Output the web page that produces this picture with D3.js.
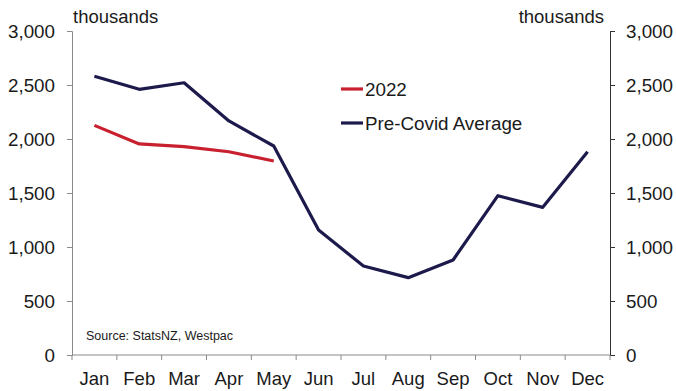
<!DOCTYPE html>
<html>
<head>
<meta charset="utf-8">
<script src="https://cdn.jsdelivr.net/npm/d3@7"></script>
<style>
  html, body { margin: 0; padding: 0; background: #fff; }
  svg { display: block; font-family: 'Liberation Sans', Arial, sans-serif; }
</style>
</head>
<body>
<div id="chart"></div>
<script>
/* ── Data ── */
const MONTHS = ['Jan', 'Feb', 'Mar', 'Apr', 'May', 'Jun', 'Jul', 'Aug', 'Sep', 'Oct', 'Nov', 'Dec'];
const Y2022 = [2126, 1954, 1929, 1882, 1796];
const PRE_COVID = [2581, 2460, 2521, 2167, 1935, 1157, 824, 716, 880, 1475, 1367, 1882];
const Y_TICKS = [0, 500, 1000, 1500, 2000, 2500, 3000];

const W = 676, H = 391;
const M = { left: 72, right: 66, top: 31, bottom: 36 };
const TXT = '#1a1a1a';

const svg = d3.select('#chart').append('svg')
  .attr('width', W).attr('height', H);

const x = d3.scaleBand().domain(MONTHS)
  .range([M.left, W - M.right]);
const y = d3.scaleLinear().domain([0, 3000])
  .range([H - M.bottom, M.top]);

const fmt = d3.format(',');

/* ── Axes ── */
const yl = svg.append('g')
  .attr('transform', `translate(${M.left},0)`)
  .call(d3.axisLeft(y).tickValues(Y_TICKS).tickFormat(fmt).tickSizeOuter(0).tickSize(5).tickPadding(12));
yl.select('.domain').attr('stroke', '#8a8a8a');
yl.selectAll('.tick line').attr('stroke', '#8a8a8a');

const yr = svg.append('g')
  .attr('transform', `translate(${W - M.right},0)`)
  .call(d3.axisRight(y).tickValues(Y_TICKS).tickFormat(fmt).tickSizeOuter(0).tickSize(5).tickPadding(11));
yr.select('.domain').attr('stroke', '#333');
yr.selectAll('.tick line').attr('stroke', '#333');

[yl, yr].forEach(g => g.selectAll('.tick text')
  .attr('fill', TXT).attr('font-size', '18.8px'));

/* bottom axis: ticks on band edges */
const xa = svg.append('g')
  .attr('transform', `translate(0,${y(0)})`);
xa.append('line')
  .attr('x1', M.left).attr('x2', W - M.right)
  .attr('stroke', '#8a8a8a');
xa.selectAll('line.edge')
  .data(MONTHS.map(m => x(m)).concat([x.range()[1]]))
  .join('line').attr('class', 'edge')
  .attr('x1', d => d).attr('x2', d => d)
  .attr('y1', 0).attr('y2', 5)
  .attr('stroke', '#8a8a8a');
xa.selectAll('text')
  .data(MONTHS)
  .join('text')
  .attr('x', d => x(d) + x.bandwidth() / 2)
  .attr('y', 30)
  .attr('text-anchor', 'middle')
  .attr('fill', TXT)
  .attr('font-size', '18.5px')
  .text(d => d);

/* ── Units ── */
svg.append('text').attr('x', 73).attr('y', 23)
  .attr('fill', TXT).attr('font-size', '18.5px').text('thousands');
svg.append('text').attr('x', 604).attr('y', 23)
  .attr('text-anchor', 'end')
  .attr('fill', TXT).attr('font-size', '18.5px').text('thousands');

/* ── Lines ── */
const line = d3.line()
  .x((d, i) => x(MONTHS[i]) + x.bandwidth() / 2)
  .y(d => y(d));

const SERIES = [
  { name: 'Pre-Covid Average', values: PRE_COVID, color: '#1c1a4b' },
  { name: '2022', values: Y2022, color: '#c8202f' },
];

svg.append('g').selectAll('path')
  .data(SERIES)
  .join('path')
  .attr('d', d => line(d.values))
  .attr('fill', 'none')
  .attr('stroke', d => d.color)
  .attr('stroke-width', 3.2)
  .attr('stroke-linejoin', 'round');

/* ── Legend ── */
const leg = svg.append('g');
[SERIES[1], SERIES[0]].forEach((s, i) => {
  const ly = 89 + i * 34;
  leg.append('line')
    .attr('x1', 341).attr('x2', 363)
    .attr('y1', ly).attr('y2', ly)
    .attr('stroke', s.color).attr('stroke-width', 3.2);
  leg.append('text')
    .attr('x', 365).attr('y', ly + 6.5)
    .attr('fill', TXT).attr('font-size', '18.8px')
    .text(s.name);
});

/* ── Source ── */
svg.append('text').attr('x', 86).attr('y', 339.5)
  .attr('fill', TXT).attr('font-size', '12.5px')
  .text('Source: StatsNZ, Westpac');
</script>
</body>
</html>
